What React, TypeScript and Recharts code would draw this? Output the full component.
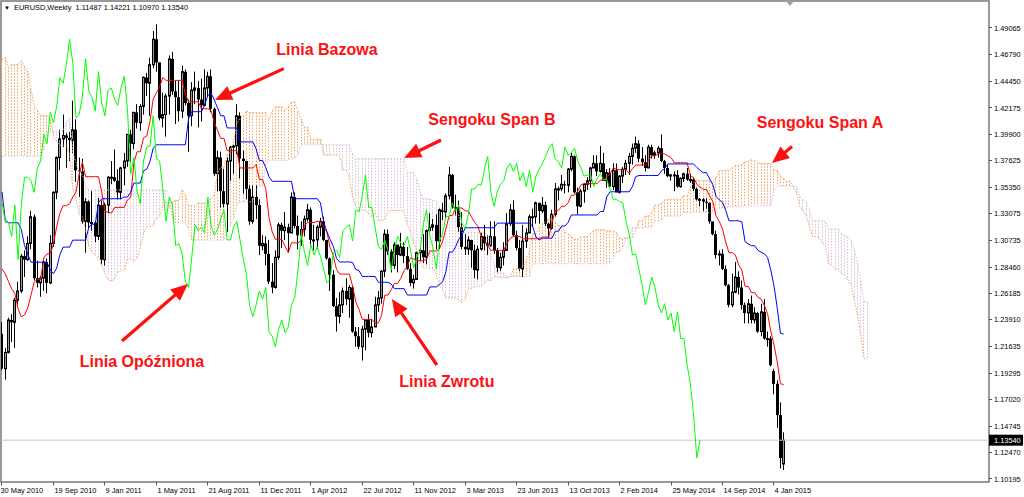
import React from 'react';
import {
  ComposedChart,
  Bar,
  Line,
  XAxis,
  YAxis,
  ReferenceLine,
  ReferenceDot,
  ReferenceArea,
} from 'recharts';

// Weekly EURUSD highs/lows before the visible window (from the week of 30 Nov 2008).
// They feed the 26-week Kijun and the 52-week Senkou Span B at the left edge.
const earlierHighs = [
  1.28, 1.34, 1.472, 1.422, 1.43, 1.395, 1.356, 1.332, 1.333, 1.304, 1.313, 1.295, 1.298,
  1.272, 1.302, 1.374, 1.374, 1.355, 1.353, 1.339, 1.325, 1.338, 1.374, 1.374, 1.405, 1.419,
  1.434, 1.416, 1.412, 1.408, 1.421, 1.411, 1.416, 1.434, 1.427, 1.445, 1.438, 1.435, 1.444,
  1.442, 1.46, 1.478, 1.484, 1.47, 1.475, 1.496, 1.506, 1.506, 1.492, 1.501, 1.506, 1.5145,
  1.514, 1.503, 1.463, 1.44, 1.451, 1.453, 1.458, 1.446, 1.419, 1.404, 1.38, 1.382, 1.369,
  1.374, 1.384, 1.39, 1.377, 1.359, 1.369, 1.37, 1.357, 1.344, 1.336, 1.31, 1.267, 1.256,
];
const earlierLows = [
  1.252, 1.28, 1.335, 1.383, 1.363, 1.323, 1.301, 1.277, 1.277, 1.274, 1.277, 1.256, 1.26,
  1.246, 1.256, 1.286, 1.324, 1.311, 1.31, 1.289, 1.289, 1.304, 1.324, 1.346, 1.343, 1.383,
  1.397, 1.374, 1.375, 1.376, 1.396, 1.388, 1.386, 1.404, 1.398, 1.416, 1.405, 1.406, 1.413,
  1.41, 1.432, 1.453, 1.458, 1.448, 1.448, 1.465, 1.482, 1.466, 1.466, 1.484, 1.482, 1.483,
  1.495, 1.458, 1.422, 1.422, 1.422, 1.426, 1.436, 1.403, 1.393, 1.367, 1.358, 1.353, 1.344,
  1.345, 1.353, 1.353, 1.327, 1.33, 1.338, 1.348, 1.331, 1.311, 1.252, 1.235, 1.214, 1.215,
];

// Visible weekly bars, the first one being the week of 30 May 2010.
const opens = [
  1.227, 1.197, 1.211, 1.239, 1.237, 1.256, 1.264, 1.294, 1.291, 1.305, 1.328, 1.275, 1.271,
  1.275, 1.289, 1.271, 1.305, 1.349, 1.379, 1.395, 1.398, 1.396, 1.394, 1.403, 1.368, 1.367,
  1.324, 1.341, 1.323, 1.323, 1.311, 1.338, 1.291, 1.338, 1.362, 1.362, 1.359, 1.349, 1.37,
  1.376, 1.399, 1.391, 1.418, 1.409, 1.423, 1.448, 1.443, 1.459, 1.481, 1.461, 1.413, 1.416,
  1.432, 1.464, 1.436, 1.431, 1.419, 1.453, 1.426, 1.415, 1.437, 1.439, 1.429, 1.424, 1.439,
  1.449, 1.421, 1.365, 1.379, 1.35, 1.339, 1.376, 1.388, 1.389, 1.415, 1.378, 1.376, 1.352,
  1.324, 1.345, 1.338, 1.303, 1.305, 1.296, 1.272, 1.267, 1.293, 1.321, 1.316, 1.319, 1.314,
  1.345, 1.32, 1.312, 1.317, 1.326, 1.334, 1.308, 1.308, 1.319, 1.324, 1.308, 1.292, 1.278,
  1.251, 1.242, 1.252, 1.264, 1.257, 1.267, 1.229, 1.225, 1.216, 1.231, 1.239, 1.228, 1.233,
  1.252, 1.258, 1.281, 1.313, 1.298, 1.286, 1.304, 1.295, 1.302, 1.294, 1.283, 1.271, 1.274,
  1.297, 1.299, 1.293, 1.316, 1.319, 1.321, 1.307, 1.334, 1.332, 1.346, 1.364, 1.336, 1.336,
  1.319, 1.302, 1.3, 1.308, 1.299, 1.282, 1.3, 1.311, 1.305, 1.303, 1.311, 1.299, 1.284,
  1.293, 1.299, 1.322, 1.334, 1.312, 1.301, 1.283, 1.307, 1.314, 1.328, 1.328, 1.34, 1.333,
  1.338, 1.322, 1.318, 1.33, 1.352, 1.352, 1.356, 1.355, 1.369, 1.38, 1.349, 1.337, 1.35,
  1.356, 1.359, 1.37, 1.374, 1.367, 1.374, 1.359, 1.366, 1.354, 1.368, 1.349, 1.363, 1.369,
  1.374, 1.38, 1.387, 1.391, 1.378, 1.375, 1.37, 1.388, 1.381, 1.383, 1.387, 1.376, 1.37,
  1.363, 1.364, 1.364, 1.354, 1.361, 1.365, 1.36, 1.36, 1.352, 1.343, 1.343, 1.341, 1.34,
  1.324, 1.313, 1.295, 1.296, 1.283, 1.269, 1.252, 1.263, 1.276, 1.267, 1.252, 1.245, 1.253,
  1.239, 1.245, 1.229, 1.246, 1.223, 1.223, 1.195, 1.184, 1.157, 1.11487,
];
const highs = [
  1.237, 1.215, 1.241, 1.244, 1.258, 1.272, 1.296, 1.299, 1.311, 1.333, 1.33, 1.29, 1.277,
  1.292, 1.292, 1.312, 1.35, 1.38, 1.403, 1.416, 1.4, 1.401, 1.428, 1.412, 1.379, 1.378,
  1.344, 1.342, 1.35, 1.324, 1.344, 1.342, 1.34, 1.363, 1.376, 1.386, 1.369, 1.371, 1.383,
  1.399, 1.403, 1.418, 1.425, 1.425, 1.449, 1.452, 1.465, 1.488, 1.494, 1.461, 1.435, 1.434,
  1.467, 1.47, 1.445, 1.445, 1.458, 1.455, 1.429, 1.444, 1.453, 1.445, 1.447, 1.455, 1.453,
  1.455, 1.422, 1.385, 1.384, 1.369, 1.379, 1.389, 1.39, 1.425, 1.418, 1.385, 1.368, 1.355,
  1.355, 1.355, 1.343, 1.312, 1.311, 1.308, 1.288, 1.299, 1.323, 1.323, 1.332, 1.322, 1.349,
  1.349, 1.329, 1.324, 1.329, 1.339, 1.336, 1.321, 1.321, 1.327, 1.328, 1.308, 1.293, 1.282,
  1.258, 1.263, 1.267, 1.275, 1.269, 1.269, 1.233, 1.233, 1.234, 1.239, 1.244, 1.24, 1.259,
  1.264, 1.282, 1.317, 1.317, 1.3, 1.306, 1.301, 1.314, 1.306, 1.302, 1.288, 1.278, 1.298,
  1.301, 1.313, 1.317, 1.331, 1.326, 1.33, 1.335, 1.34, 1.348, 1.371, 1.365, 1.347, 1.342,
  1.332, 1.313, 1.311, 1.301, 1.304, 1.303, 1.314, 1.321, 1.312, 1.324, 1.324, 1.301, 1.297,
  1.306, 1.331, 1.339, 1.342, 1.316, 1.308, 1.321, 1.318, 1.33, 1.335, 1.341, 1.34, 1.345,
  1.341, 1.323, 1.334, 1.357, 1.354, 1.364, 1.359, 1.37, 1.383, 1.381, 1.353, 1.352, 1.357,
  1.362, 1.371, 1.381, 1.381, 1.389, 1.383, 1.369, 1.37, 1.374, 1.374, 1.364, 1.371, 1.377,
  1.383, 1.391, 1.397, 1.394, 1.388, 1.381, 1.39, 1.39, 1.385, 1.389, 1.399, 1.377, 1.373,
  1.365, 1.367, 1.368, 1.362, 1.366, 1.37, 1.365, 1.362, 1.353, 1.344, 1.344, 1.344, 1.34,
  1.323, 1.316, 1.299, 1.3, 1.286, 1.27, 1.279, 1.289, 1.281, 1.273, 1.254, 1.257, 1.26,
  1.25, 1.246, 1.253, 1.257, 1.229, 1.225, 1.197, 1.187, 1.168, 1.14221,
];
const lows = [
  1.196, 1.1876, 1.21, 1.22, 1.215, 1.252, 1.262, 1.276, 1.29, 1.3, 1.273, 1.267, 1.259,
  1.264, 1.262, 1.27, 1.302, 1.343, 1.368, 1.388, 1.37, 1.376, 1.383, 1.358, 1.345, 1.322,
  1.297, 1.318, 1.316, 1.306, 1.308, 1.287, 1.286, 1.331, 1.356, 1.358, 1.343, 1.343, 1.355,
  1.371, 1.375, 1.386, 1.404, 1.402, 1.416, 1.432, 1.415, 1.456, 1.453, 1.411, 1.405, 1.397,
  1.416, 1.433, 1.408, 1.41, 1.413, 1.424, 1.384, 1.406, 1.425, 1.405, 1.41, 1.423, 1.432,
  1.418, 1.363, 1.35, 1.336, 1.336, 1.315, 1.359, 1.365, 1.382, 1.361, 1.348, 1.343, 1.321,
  1.322, 1.326, 1.295, 1.299, 1.286, 1.27, 1.262, 1.266, 1.291, 1.301, 1.308, 1.297, 1.315,
  1.318, 1.3, 1.303, 1.311, 1.324, 1.304, 1.299, 1.3, 1.311, 1.307, 1.291, 1.264, 1.25,
  1.229, 1.236, 1.245, 1.252, 1.241, 1.228, 1.216, 1.214, 1.204, 1.213, 1.224, 1.224, 1.233,
  1.246, 1.253, 1.276, 1.295, 1.28, 1.283, 1.28, 1.294, 1.288, 1.282, 1.268, 1.266, 1.274,
  1.29, 1.288, 1.287, 1.316, 1.316, 1.3, 1.3, 1.325, 1.326, 1.343, 1.335, 1.329, 1.315,
  1.3, 1.295, 1.295, 1.284, 1.275, 1.274, 1.299, 1.299, 1.295, 1.302, 1.296, 1.28, 1.281,
  1.286, 1.3, 1.32, 1.311, 1.299, 1.281, 1.276, 1.301, 1.314, 1.319, 1.322, 1.322, 1.331,
  1.32, 1.31, 1.317, 1.328, 1.342, 1.35, 1.348, 1.349, 1.367, 1.348, 1.33, 1.336, 1.34,
  1.351, 1.353, 1.37, 1.363, 1.366, 1.359, 1.353, 1.353, 1.351, 1.349, 1.348, 1.357, 1.364,
  1.364, 1.373, 1.383, 1.375, 1.372, 1.367, 1.37, 1.378, 1.378, 1.379, 1.375, 1.365, 1.362,
  1.359, 1.35, 1.353, 1.353, 1.358, 1.359, 1.357, 1.35, 1.342, 1.337, 1.333, 1.335, 1.322,
  1.312, 1.292, 1.286, 1.282, 1.268, 1.25, 1.25, 1.262, 1.261, 1.248, 1.236, 1.236, 1.236,
  1.236, 1.228, 1.225, 1.222, 1.216, 1.199, 1.175, 1.146, 1.111, 1.1097,
];
const closes = [
  1.197, 1.211, 1.239, 1.237, 1.256, 1.264, 1.294, 1.291, 1.305, 1.328, 1.275, 1.271, 1.275,
  1.289, 1.271, 1.305, 1.349, 1.379, 1.395, 1.398, 1.396, 1.394, 1.403, 1.368, 1.367, 1.324,
  1.341, 1.323, 1.323, 1.311, 1.338, 1.291, 1.338, 1.362, 1.362, 1.359, 1.349, 1.37, 1.376,
  1.399, 1.391, 1.418, 1.409, 1.423, 1.448, 1.443, 1.459, 1.481, 1.461, 1.413, 1.416, 1.432,
  1.464, 1.436, 1.431, 1.419, 1.453, 1.426, 1.415, 1.437, 1.439, 1.429, 1.424, 1.439, 1.449,
  1.421, 1.365, 1.379, 1.35, 1.339, 1.376, 1.388, 1.389, 1.415, 1.378, 1.376, 1.352, 1.324,
  1.345, 1.338, 1.303, 1.305, 1.296, 1.272, 1.267, 1.293, 1.321, 1.316, 1.319, 1.314, 1.345,
  1.32, 1.312, 1.317, 1.326, 1.334, 1.308, 1.308, 1.319, 1.324, 1.308, 1.292, 1.278, 1.251,
  1.242, 1.252, 1.264, 1.257, 1.267, 1.229, 1.225, 1.216, 1.231, 1.239, 1.228, 1.233, 1.252,
  1.258, 1.281, 1.313, 1.298, 1.286, 1.304, 1.295, 1.302, 1.294, 1.283, 1.271, 1.274, 1.297,
  1.299, 1.293, 1.316, 1.319, 1.321, 1.307, 1.334, 1.332, 1.346, 1.364, 1.336, 1.336, 1.319,
  1.302, 1.3, 1.308, 1.299, 1.282, 1.3, 1.311, 1.305, 1.303, 1.311, 1.299, 1.284, 1.293,
  1.299, 1.322, 1.334, 1.312, 1.301, 1.283, 1.307, 1.314, 1.328, 1.328, 1.34, 1.333, 1.338,
  1.322, 1.318, 1.33, 1.352, 1.352, 1.356, 1.355, 1.369, 1.38, 1.349, 1.337, 1.35, 1.356,
  1.359, 1.37, 1.374, 1.367, 1.374, 1.359, 1.366, 1.354, 1.368, 1.349, 1.363, 1.369, 1.374,
  1.38, 1.387, 1.391, 1.378, 1.375, 1.37, 1.388, 1.381, 1.383, 1.387, 1.376, 1.37, 1.363,
  1.364, 1.364, 1.354, 1.361, 1.365, 1.36, 1.36, 1.352, 1.343, 1.343, 1.341, 1.34, 1.324,
  1.313, 1.295, 1.296, 1.283, 1.269, 1.252, 1.263, 1.276, 1.267, 1.252, 1.245, 1.253, 1.239,
  1.245, 1.229, 1.246, 1.223, 1.223, 1.2, 1.184, 1.157, 1.12, 1.1354,
];

// Bottom axis: one label every 16 weeks, counted from the first visible bar.
const dateTicks = [0, 16, 32, 48, 64, 80, 96, 112, 128, 144, 160, 176, 192, 208, 224, 240];
const dateLabels = [
  '30 May 2010', '19 Sep 2010', '9 Jan 2011', '1 May 2011', '21 Aug 2011', '11 Dec 2011',
  '1 Apr 2012', '22 Jul 2012', '11 Nov 2012', '3 Mar 2013', '23 Jun 2013', '13 Oct 2013',
  '2 Feb 2014', '25 May 2014', '14 Sep 2014', '4 Jan 2015',
];

// Right axis price scale.
const priceTicks = [
  1.49065, 1.4679, 1.4445, 1.42175, 1.399, 1.37625, 1.3535, 1.33075, 1.30735, 1.2846,
  1.26185, 1.2391, 1.21635, 1.19295, 1.1702, 1.14745, 1.1354, 1.1247, 1.10195,
];
const lastPrice = 1.1354;

// Callouts naming the Ichimoku lines: label position and arrow (tail -> tip) in week/price units.
const callouts = [
  { text: 'Linia Bazowa', week: 101.0, price: 1.4717, from: [87.6, 1.4556], to: [66.2, 1.4286] },
  { text: 'Sengoku Span B', week: 152.3, price: 1.4114, from: [136.5, 1.3941], to: [125.0, 1.3786] },
  { text: 'Sengoku Span A', week: 254.3, price: 1.4088, from: [245.6, 1.3885], to: [239.4, 1.3743] },
  { text: 'Linia Opóźniona', week: 43.5, price: 1.2028, from: [37.3, 1.2209], to: [57.8, 1.27] },
  { text: 'Linia Zwrotu', week: 138.3, price: 1.1864, from: [135.2, 1.2002], to: [121.2, 1.2571] },
];

// Ichimoku settings
const TENKAN = 9;
const KIJUN = 26;
const SENKOU = 52;

const X_MIN = -0.31;
const X_MAX = 306.84;
const Y_MIN = 1.09936;
const Y_MAX = 1.51392;

const CHART_W = 1024;
const CHART_H = 497;
const X_AXIS_H = 15;
const AXIS_Y = CHART_H - X_AXIS_H; // bottom edge of the plot

const PRE = earlierHighs.length;
const allHighs = [...earlierHighs, ...highs];
const allLows = [...earlierLows, ...lows];

// midpoint of the highest high and lowest low over the n bars ending at g
function midRange(g: number, n: number): number {
  let hi = -Infinity;
  let lo = Infinity;
  for (let k = Math.max(0, g - n + 1); k <= g; k++) {
    hi = Math.max(hi, allHighs[k]);
    lo = Math.min(lo, allLows[k]);
  }
  return (hi + lo) / 2;
}

type Row = {
  i: number;
  open?: number;
  high?: number;
  low?: number;
  close?: number;
  candle?: [number, number];
  tenkan?: number;
  kijun?: number;
  chikou?: number;
  spanA?: number;
  spanB?: number;
  cloud?: [number, number];
};

const rows: Row[] = [];
for (let i = 0; i < closes.length + KIJUN; i++) {
  const g = i + PRE;
  const row: Row = { i };
  if (i < closes.length) {
    row.open = opens[i];
    row.high = highs[i];
    row.low = lows[i];
    row.close = closes[i];
    row.candle = [lows[i], highs[i]];
    row.tenkan = midRange(g, TENKAN);
    row.kijun = midRange(g, KIJUN);
  }
  if (i + KIJUN < closes.length) row.chikou = closes[i + KIJUN];
  const s = g - KIJUN;
  if (s < allHighs.length) {
    const a = (midRange(s, TENKAN) + midRange(s, KIJUN)) / 2;
    const b = midRange(s, SENKOU);
    row.spanA = a;
    row.spanB = b;
    row.cloud = [Math.min(a, b), Math.max(a, b)];
  }
  rows.push(row);
}

const AXIS_FONT = '"Liberation Sans", Arial, sans-serif';

// snap a centre line onto the pixel grid so 1px strokes stay crisp
const crisp = (v: number) => Math.round(v - 0.5) + 0.5;

function CandleShape(props: any) {
  const { x, y, width, height, payload } = props;
  if (!payload || payload.high == null) return null;
  const top = Math.min(y, y + height);
  const h = Math.abs(height);
  const cx = crisp(x + width / 2);
  const span = payload.high - payload.low;
  const py = (p: number) => top + (span === 0 ? 0 : ((payload.high - p) / span) * h);
  const yo = py(payload.open);
  const yc = py(payload.close);
  const bodyTop = Math.min(yo, yc);
  const bodyH = Math.max(Math.abs(yo - yc), 1);
  const bull = payload.close >= payload.open;
  return (
    <g>
      <line x1={cx} y1={top} x2={cx} y2={top + h} stroke="#000" strokeWidth={1} />
      {bull ? (
        <rect x={cx - 1} y={bodyTop} width={2} height={bodyH} fill="#9a9a9a" stroke="#000" strokeWidth={1} />
      ) : (
        <rect x={cx - 1.5} y={bodyTop} width={3} height={bodyH} fill="#000" />
      )}
    </g>
  );
}

function CloudShape(props: any) {
  const { x, y, width, height, payload } = props;
  if (!payload || payload.spanA == null) return null;
  const top = Math.min(y, y + height);
  const h = Math.abs(height);
  const cx = crisp(x + width / 2);
  const color = payload.spanA >= payload.spanB ? '#F4A460' : '#D8BFD8';
  return (
    <line x1={cx} y1={top} x2={cx} y2={top + h} stroke={color} strokeWidth={1} strokeDasharray="1.5 1.5" />
  );
}

function DateTick(props: any) {
  const { x, payload, index } = props;
  const label = dateLabels[dateTicks.indexOf(payload.value)] ?? '';
  const tx = crisp(x);
  return (
    <g>
      <line x1={tx} y1={AXIS_Y} x2={tx} y2={AXIS_Y + 3.5} stroke="#555" strokeWidth={1} />
      <text x={index === 0 ? tx - 1 : tx + 1} y={AXIS_Y + 10.5} fontSize={7.4} fontFamily={AXIS_FONT} fill="#000" textAnchor="start">
        {label}
      </text>
    </g>
  );
}

function PriceTick(props: any) {
  const { x, y, payload } = props;
  const v = payload.value as number;
  const text = v.toFixed(5);
  if (Math.abs(v - lastPrice) < 1e-9) {
    return (
      <g>
        <rect x={x} y={y - 5.5} width={34} height={11} fill="#000" />
        <text x={x + 5} y={y + 2.6} fontSize={7.4} fontFamily={AXIS_FONT} fill="#fff" textAnchor="start">
          {text}
        </text>
      </g>
    );
  }
  return (
    <g>
      <line x1={x} y1={crisp(y)} x2={x + 3} y2={crisp(y)} stroke="#555" strokeWidth={1} />
      <text x={x + 5} y={y + 2.6} fontSize={7.4} fontFamily={AXIS_FONT} fill="#000" textAnchor="start">
        {text}
      </text>
    </g>
  );
}

const CALLOUT_RED = '#ff1010';

function ArrowShape(props: any) {
  const { x1, y1, x2, y2 } = props;
  const dx = x2 - x1;
  const dy = y2 - y1;
  const len = Math.hypot(dx, dy) || 1;
  const ux = dx / len;
  const uy = dy / len;
  const headLen = 17;
  const headHalf = 7.5;
  const bx = x2 - ux * headLen;
  const by = y2 - uy * headLen;
  const px = -uy;
  const py = ux;
  return (
    <g>
      <line x1={x1} y1={y1} x2={bx + ux * 2} y2={by + uy * 2} stroke={CALLOUT_RED} strokeWidth={3.2} />
      <polygon
        points={`${x2},${y2} ${bx + px * headHalf},${by + py * headHalf} ${bx - px * headHalf},${by - py * headHalf}`}
        fill={CALLOUT_RED}
      />
    </g>
  );
}

export default function App() {
  return (
    <div style={{ position: 'absolute', left: 0, top: 0, width: CHART_W, height: CHART_H, background: '#ffffff' }}>
      <ComposedChart
        width={CHART_W}
        height={CHART_H}
        data={rows}
        margin={{ top: 1, right: 0, bottom: 0, left: 1 }}
      >
        <XAxis
          xAxisId="main"
          dataKey="i"
          type="number"
          domain={[X_MIN, X_MAX]}
          allowDataOverflow
          ticks={dateTicks}
          interval={0}
          height={X_AXIS_H}
          tickLine={false}
          axisLine={false}
          tickSize={0}
          tickMargin={0}
          tick={(p: any) => <DateTick {...p} />}
        />
        <XAxis xAxisId="cloud" dataKey="i" type="number" domain={[X_MIN, X_MAX]} allowDataOverflow hide />
        <YAxis
          yAxisId="p"
          orientation="right"
          type="number"
          domain={[Y_MIN, Y_MAX]}
          allowDataOverflow
          ticks={priceTicks}
          interval={0}
          width={35}
          tickLine={false}
          axisLine={false}
          tickSize={0}
          tickMargin={0}
          tick={(p: any) => <PriceTick {...p} />}
        />

        <Bar
          xAxisId="cloud"
          yAxisId="p"
          dataKey="cloud"
          barSize={1}
          shape={(p: any) => <CloudShape {...p} />}
          isAnimationActive={false}
        />
        <Line
          xAxisId="main"
          yAxisId="p"
          dataKey="spanA"
          stroke="#F4A460"
          strokeWidth={1}
          strokeDasharray="1.5 1.5"
          dot={false}
          activeDot={false}
          isAnimationActive={false}
        />
        <Line
          xAxisId="main"
          yAxisId="p"
          dataKey="spanB"
          stroke="#D8BFD8"
          strokeWidth={1}
          strokeDasharray="1.5 1.5"
          dot={false}
          activeDot={false}
          isAnimationActive={false}
        />

        <ReferenceLine xAxisId="main" yAxisId="p" y={lastPrice} stroke="#c8c8c8" strokeWidth={1} />

        <Bar
          xAxisId="main"
          yAxisId="p"
          dataKey="candle"
          barSize={3}
          shape={(p: any) => <CandleShape {...p} />}
          isAnimationActive={false}
        />

        <Line xAxisId="main" yAxisId="p" dataKey="tenkan" stroke="#ff0000" strokeWidth={1} dot={false} activeDot={false} isAnimationActive={false} />
        <Line xAxisId="main" yAxisId="p" dataKey="kijun" stroke="#0000ff" strokeWidth={1} dot={false} activeDot={false} isAnimationActive={false} />
        <Line xAxisId="main" yAxisId="p" dataKey="chikou" stroke="#00ff00" strokeWidth={1} dot={false} activeDot={false} isAnimationActive={false} />

        <ReferenceArea
          xAxisId="main"
          yAxisId="p"
          x1={X_MIN}
          x2={X_MAX}
          y1={Y_MIN}
          y2={Y_MAX}
          fill="none"
          fillOpacity={0}
          stroke="#777777"
          strokeWidth={1.5}
          ifOverflow="visible"
        />

        {callouts.map((c) => (
          <ReferenceLine
            key={c.text + '-arrow'}
            xAxisId="main"
            yAxisId="p"
            segment={[
              { x: c.from[0], y: c.from[1] },
              { x: c.to[0], y: c.to[1] },
            ]}
            ifOverflow="visible"
            shape={(p: any) => <ArrowShape {...p} />}
          />
        ))}
        {callouts.map((c) => (
          <ReferenceDot
            key={c.text}
            xAxisId="main"
            yAxisId="p"
            x={c.week}
            y={c.price}
            r={0}
            ifOverflow="visible"
            shape={(p: any) => (
              <text
                x={p.cx}
                y={p.cy}
                textAnchor="middle"
                dominantBaseline="central"
                fontFamily={AXIS_FONT}
                fontWeight="bold"
                fontSize={16}
                fill={CALLOUT_RED}
              >
                {c.text}
              </text>
            )}
          />
        ))}
      </ComposedChart>

      <div
        style={{
          position: 'absolute',
          left: 4,
          top: 3,
          fontFamily: AXIS_FONT,
          fontSize: 7.4,
          color: '#000',
          whiteSpace: 'pre',
          lineHeight: '9px',
        }}
      >
        <span style={{ fontSize: 6 }}>▼</span>
        {'  EURUSD,Weekly  1.11487 1.14221 1.10970 1.13540'}
      </div>
      <div
        style={{
          position: 'absolute',
          left: 786,
          top: 1,
          width: 0,
          height: 0,
          borderLeft: '4px solid transparent',
          borderRight: '4px solid transparent',
          borderTop: '5px solid #a0a0a0',
        }}
      />
    </div>
  );
}
